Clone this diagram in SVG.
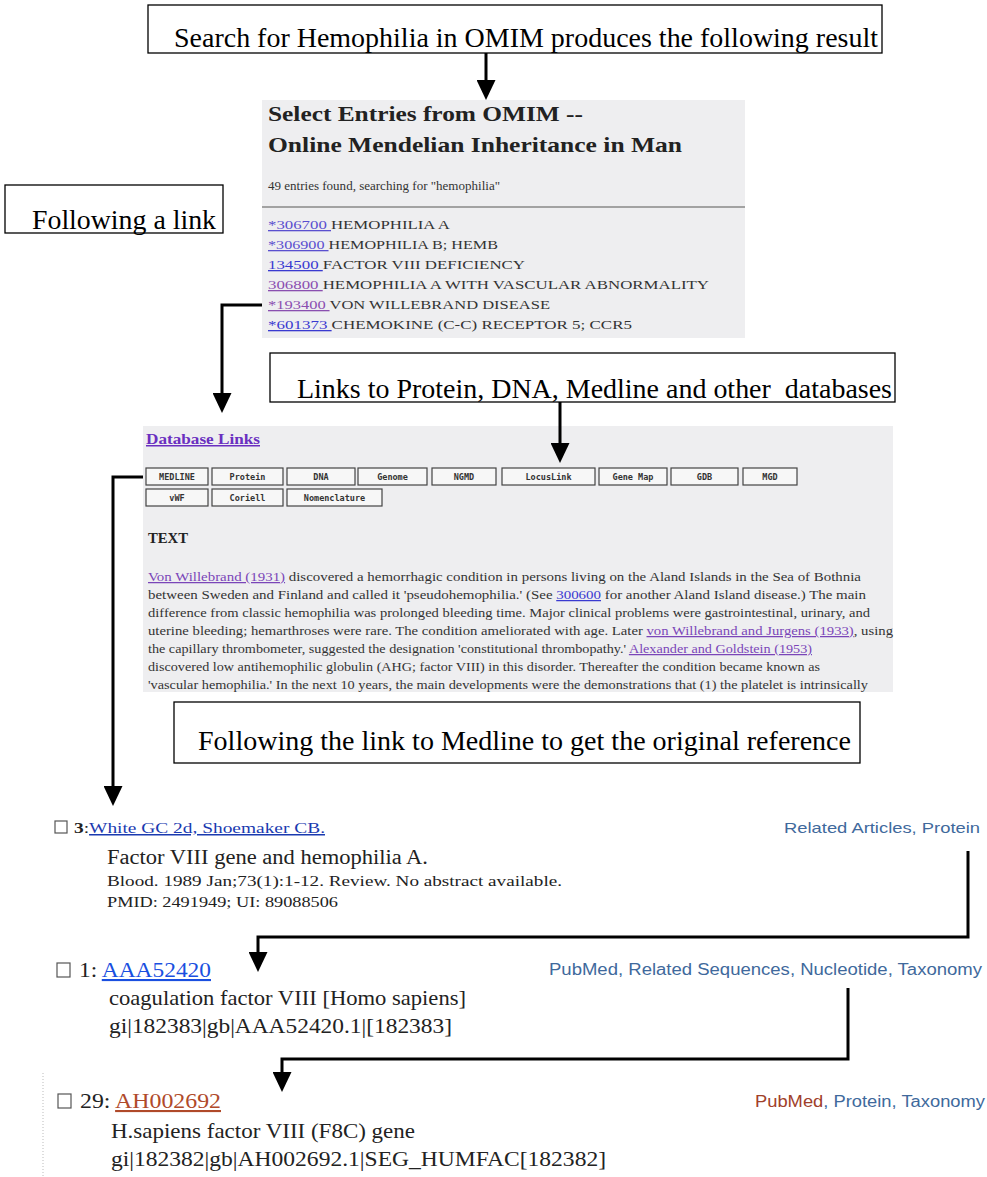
<svg xmlns="http://www.w3.org/2000/svg" width="987" height="1177" viewBox="0 0 987 1177">
<defs>
<style>
.box{fill:#fff;stroke:#000;stroke-width:1.3}
.lbl{font-family:"Liberation Serif","Times New Roman",serif;font-size:27px;fill:#000;white-space:pre}
.conn{fill:none;stroke:#000;stroke-width:3;stroke-linejoin:miter}
.panel{fill:#eeeef0}
.sf{font-family:"Liberation Serif","Times New Roman",serif}
.ss{font-family:"Liberation Sans",Arial,sans-serif}
.ent{font-size:13px;fill:#333}
.body{font-size:12.5px;fill:#333}
.u{text-decoration:underline}
.pur{fill:#7a45b8}
.blu{fill:#3a3ad0}
.btn{fill:#f7f7f7;stroke:#444;stroke-width:1.2}
.btxt{font-family:"DejaVu Sans Mono",monospace;font-size:8.5px;font-weight:bold;fill:#333;text-anchor:middle}
.cb{fill:#fff;stroke:#555;stroke-width:1.2}
.pm{fill:#40699c}
.big{font-size:21px;fill:#222}
</style>
<marker id="arr" markerUnits="userSpaceOnUse" markerWidth="20" markerHeight="19" viewBox="0 0 20 19" refX="8" refY="9.5" orient="auto">
<path d="M0,0 L20,9.5 L0,19 Z" fill="#000"/>
</marker>
</defs>
<rect width="987" height="1177" fill="#fff"/>

<g id="n-search">
<rect class="box" x="148" y="5" width="734" height="48"/>
<text class="lbl" x="174" y="47" textLength="704" lengthAdjust="spacingAndGlyphs">Search for Hemophilia in OMIM produces the following result</text>
</g>

<g id="n-omim">
<rect class="panel" x="262" y="100" width="483" height="238"/>
<text class="sf" x="268" y="121" font-size="21" font-weight="bold" fill="#222" textLength="315" lengthAdjust="spacingAndGlyphs">Select Entries from OMIM --</text>
<text class="sf" x="268" y="152" font-size="21" font-weight="bold" fill="#222" textLength="414" lengthAdjust="spacingAndGlyphs">Online Mendelian Inheritance in Man</text>
<text class="sf" x="268" y="190" font-size="12" fill="#333" textLength="232" lengthAdjust="spacingAndGlyphs">49 entries found, searching for "hemophilia"</text>
<line x1="262" y1="207" x2="745" y2="207" stroke="#888" stroke-width="1.5"/>
<text class="sf ent" x="268" y="229" textLength="182" lengthAdjust="spacingAndGlyphs"><tspan class="u" fill="#5a4fcf">*306700 </tspan>HEMOPHILIA A</text>
<text class="sf ent" x="268" y="249" textLength="230" lengthAdjust="spacingAndGlyphs"><tspan class="u" fill="#5a4fcf">*306900 </tspan>HEMOPHILIA B; HEMB</text>
<text class="sf ent" x="268" y="269" textLength="257" lengthAdjust="spacingAndGlyphs"><tspan class="u" fill="#3a3ad0">134500 </tspan>FACTOR VIII DEFICIENCY</text>
<text class="sf ent" x="268" y="289" textLength="441" lengthAdjust="spacingAndGlyphs"><tspan class="u" fill="#8a4fb0">306800 </tspan>HEMOPHILIA A WITH VASCULAR ABNORMALITY</text>
<text class="sf ent" x="268" y="309" textLength="282" lengthAdjust="spacingAndGlyphs"><tspan class="u" fill="#8a4fb0">*193400 </tspan>VON WILLEBRAND DISEASE</text>
<text class="sf ent" x="268" y="329" textLength="364" lengthAdjust="spacingAndGlyphs"><tspan class="u" fill="#3a3ad0">*601373 </tspan>CHEMOKINE (C-C) RECEPTOR 5; CCR5</text>
</g>

<g id="n-follow">
<rect class="box" x="5" y="185" width="218" height="48"/>
<text class="lbl" x="32" y="229" textLength="184" lengthAdjust="spacingAndGlyphs">Following a link</text>
</g>

<g id="n-links">
<rect class="box" x="270" y="353" width="625" height="49"/>
<text class="lbl" x="297" y="398" textLength="595" lengthAdjust="spacingAndGlyphs">Links to Protein, DNA, Medline and other  databases</text>
</g>

<g id="n-dblinks">
<rect class="panel" x="143" y="426" width="750" height="266"/>
<text class="sf u" x="146" y="444" font-size="15" font-weight="bold" fill="#6a2fc0" textLength="114" lengthAdjust="spacingAndGlyphs">Database Links</text>
<rect class="btn" x="146" y="468" width="62" height="17"/><text class="btxt" x="177" y="480">MEDLINE</text>
<rect class="btn" x="212" y="468" width="71" height="17"/><text class="btxt" x="247.5" y="480">Protein</text>
<rect class="btn" x="287" y="468" width="68" height="17"/><text class="btxt" x="321" y="480">DNA</text>
<rect class="btn" x="358" y="468" width="69" height="17"/><text class="btxt" x="392.5" y="480">Genome</text>
<rect class="btn" x="432" y="468" width="64" height="17"/><text class="btxt" x="464" y="480">NGMD</text>
<rect class="btn" x="502" y="468" width="93" height="17"/><text class="btxt" x="548.5" y="480">LocusLink</text>
<rect class="btn" x="599" y="468" width="68" height="17"/><text class="btxt" x="633" y="480">Gene Map</text>
<rect class="btn" x="671" y="468" width="67" height="17"/><text class="btxt" x="704.5" y="480">GDB</text>
<rect class="btn" x="743" y="468" width="54" height="17"/><text class="btxt" x="770" y="480">MGD</text>
<rect class="btn" x="146" y="489" width="62" height="17"/><text class="btxt" x="177" y="501">vWF</text>
<rect class="btn" x="212" y="489" width="71" height="17"/><text class="btxt" x="247.5" y="501">Coriell</text>
<rect class="btn" x="287" y="489" width="95" height="17"/><text class="btxt" x="334.5" y="501">Nomenclature</text>
<text class="sf" x="148" y="543" font-size="14" font-weight="bold" fill="#222" textLength="40" lengthAdjust="spacingAndGlyphs">TEXT</text>
<text class="sf body" x="148" y="581" textLength="713" lengthAdjust="spacingAndGlyphs"><tspan class="u pur">Von Willebrand (1931)</tspan> discovered a hemorrhagic condition in persons living on the Aland Islands in the Sea of Bothnia</text>
<text class="sf body" x="148" y="599" textLength="718" lengthAdjust="spacingAndGlyphs">between Sweden and Finland and called it 'pseudohemophilia.' (See <tspan class="u blu">300600</tspan> for another Aland Island disease.) The main</text>
<text class="sf body" x="148" y="617" textLength="722" lengthAdjust="spacingAndGlyphs">difference from classic hemophilia was prolonged bleeding time. Major clinical problems were gastrointestinal, urinary, and</text>
<text class="sf body" x="148" y="635" textLength="745" lengthAdjust="spacingAndGlyphs">uterine bleeding; hemarthroses were rare. The condition ameliorated with age. Later <tspan class="u pur">von Willebrand and Jurgens (1933)</tspan>, using</text>
<text class="sf body" x="148" y="653" textLength="664" lengthAdjust="spacingAndGlyphs">the capillary thrombometer, suggested the designation 'constitutional thrombopathy.' <tspan class="u pur">Alexander and Goldstein (1953)</tspan></text>
<text class="sf body" x="148" y="671" textLength="672" lengthAdjust="spacingAndGlyphs">discovered low antihemophilic globulin (AHG; factor VIII) in this disorder. Thereafter the condition became known as</text>
<text class="sf body" x="148" y="689" textLength="720" lengthAdjust="spacingAndGlyphs">'vascular hemophilia.' In the next 10 years, the main developments were the demonstrations that (1) the platelet is intrinsically</text>
</g>

<g id="n-medline">
<rect class="box" x="174" y="702" width="686" height="61"/>
<text class="lbl" x="198" y="750" textLength="653" lengthAdjust="spacingAndGlyphs">Following the link to Medline to get the original reference</text>
</g>

<g id="n-entry3">
<rect class="cb" x="55" y="821" width="12" height="12"/>
<text class="sf" x="74" y="833" font-size="15" fill="#222" textLength="251" lengthAdjust="spacingAndGlyphs"><tspan font-weight="bold">3</tspan>:<tspan class="u" fill="#1a3ab0">White GC 2d, Shoemaker CB.</tspan></text>
<text class="ss pm" x="784" y="833" font-size="15" textLength="196" lengthAdjust="spacingAndGlyphs">Related Articles, Protein</text>
<text class="sf" x="107" y="864" font-size="20" fill="#222" textLength="321" lengthAdjust="spacingAndGlyphs">Factor VIII gene and hemophilia A.</text>
<text class="sf" x="107" y="886" font-size="15" fill="#222" textLength="455" lengthAdjust="spacingAndGlyphs">Blood. 1989 Jan;73(1):1-12. Review. No abstract available.</text>
<text class="sf" x="107" y="907" font-size="15" fill="#222" textLength="231" lengthAdjust="spacingAndGlyphs">PMID: 2491949; UI: 89088506</text>
</g>

<g id="n-entry1">
<rect class="cb" x="57" y="963" width="13" height="14"/>
<text class="sf big" x="79" y="977" textLength="132" lengthAdjust="spacingAndGlyphs">1: <tspan class="u" fill="#1a4fe0">AAA52420</tspan></text>
<text class="ss pm" x="549" y="975" font-size="16" textLength="433" lengthAdjust="spacingAndGlyphs">PubMed, Related Sequences, Nucleotide, Taxonomy</text>
<text class="sf big" x="109" y="1005" textLength="357" lengthAdjust="spacingAndGlyphs">coagulation factor VIII [Homo sapiens]</text>
<text class="sf big" x="109" y="1033" textLength="343" lengthAdjust="spacingAndGlyphs">gi|182383|gb|AAA52420.1|[182383]</text>
</g>

<g id="n-entry29">
<line x1="43" y1="1073" x2="43" y2="1177" stroke="#bbb" stroke-width="1" stroke-dasharray="1,2"/>
<rect class="cb" x="58" y="1094" width="13" height="14"/>
<text class="sf big" x="80" y="1108" textLength="141" lengthAdjust="spacingAndGlyphs">29: <tspan class="u" fill="#b04a2a">AH002692</tspan></text>
<text class="ss" x="755" y="1107" font-size="16" textLength="230" lengthAdjust="spacingAndGlyphs"><tspan fill="#a0402a">PubMed</tspan><tspan class="pm">, Protein, Taxonomy</tspan></text>
<text class="sf big" x="111" y="1138" textLength="304" lengthAdjust="spacingAndGlyphs">H.sapiens factor VIII (F8C) gene</text>
<text class="sf big" x="111" y="1166" textLength="495" lengthAdjust="spacingAndGlyphs">gi|182382|gb|AH002692.1|SEG_HUMFAC[182382]</text>
</g>

<g id="connectors">
<path class="conn" d="M486,53 V88" marker-end="url(#arr)"/>
<path class="conn" d="M262,305 H222 V401" marker-end="url(#arr)"/>
<path class="conn" d="M560,402 V451" marker-end="url(#arr)"/>
<path class="conn" d="M143,477 H113 V794" marker-end="url(#arr)"/>
<path class="conn" d="M968,851 V937 H258 V960" marker-end="url(#arr)"/>
<path class="conn" d="M848,988 V1059 H282 V1080" marker-end="url(#arr)"/>
</g>
</svg>
